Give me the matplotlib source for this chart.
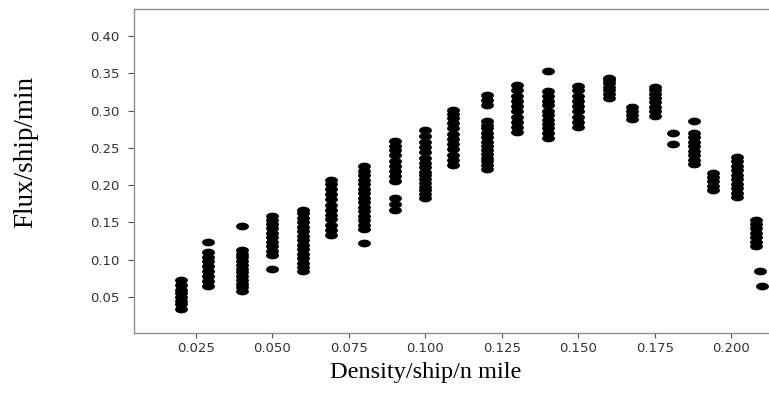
import numpy as np
import matplotlib
matplotlib.use("Agg")
import matplotlib.pyplot as plt
from matplotlib.path import Path

# density columns (ship/n mile) and flux values
density = [0.020, 0.029, 0.040, 0.050, 0.060, 0.069, 0.080, 0.090, 0.100,
           0.109, 0.120, 0.130, 0.140, 0.150, 0.160, 0.1675, 0.175, 0.181,
           0.188, 0.194, 0.202, 0.208, 0.2095, 0.2102]

flux = [
    [0.034, 0.040, 0.045, 0.050, 0.055, 0.060, 0.066, 0.073],
    [0.065, 0.072, 0.078, 0.085, 0.092, 0.098, 0.104, 0.110, 0.124],
    [0.058, 0.063, 0.068, 0.073, 0.078, 0.083, 0.088, 0.093, 0.098, 0.104, 0.108, 0.113, 0.145],
    [0.0875, 0.106, 0.112, 0.118, 0.124, 0.130, 0.136, 0.142, 0.148, 0.153, 0.159],
    [0.085, 0.090, 0.096, 0.102, 0.108, 0.114, 0.120, 0.126, 0.132, 0.138, 0.144, 0.150, 0.156, 0.162, 0.167],
    [0.133, 0.140, 0.147, 0.154, 0.160, 0.167, 0.174, 0.181, 0.188, 0.195, 0.201, 0.207],
    [0.122, 0.141, 0.147, 0.153, 0.159, 0.165, 0.171, 0.177, 0.183, 0.189, 0.195, 0.201, 0.207, 0.213, 0.219, 0.226],
    [0.167, 0.175, 0.183, 0.205, 0.212, 0.219, 0.226, 0.233, 0.240, 0.247, 0.253, 0.259],
    [0.183, 0.188, 0.193, 0.198, 0.203, 0.208, 0.213, 0.218, 0.224, 0.230, 0.237, 0.244, 0.251, 0.258, 0.266, 0.274],
    [0.227, 0.234, 0.241, 0.248, 0.255, 0.262, 0.269, 0.276, 0.283, 0.290, 0.296, 0.301],
    [0.222, 0.227, 0.232, 0.237, 0.242, 0.247, 0.252, 0.258, 0.264, 0.270, 0.276, 0.281, 0.286, 0.307, 0.314, 0.321],
    [0.271, 0.278, 0.285, 0.292, 0.299, 0.306, 0.313, 0.320, 0.327, 0.334],
    [0.263, 0.270, 0.276, 0.282, 0.288, 0.294, 0.300, 0.307, 0.313, 0.319, 0.326, 0.353],
    [0.278, 0.285, 0.292, 0.299, 0.306, 0.313, 0.320, 0.327, 0.333],
    [0.317, 0.322, 0.327, 0.332, 0.337, 0.341, 0.344],
    [0.289, 0.294, 0.299, 0.305],
    [0.293, 0.299, 0.305, 0.311, 0.317, 0.322, 0.327, 0.332],
    [0.255, 0.270],
    [0.228, 0.234, 0.240, 0.246, 0.252, 0.258, 0.264, 0.270, 0.286],
    [0.193, 0.199, 0.205, 0.211, 0.216],
    [0.184, 0.190, 0.196, 0.202, 0.208, 0.214, 0.220, 0.226, 0.232, 0.238],
    [0.118, 0.124, 0.130, 0.136, 0.142, 0.148, 0.153],
    [0.085],
    [0.065],
]

xticks = [0.025, 0.050, 0.075, 0.100, 0.125, 0.150, 0.175, 0.200]
yticks = [0.05, 0.10, 0.15, 0.20, 0.25, 0.30, 0.35, 0.40]

xs = []
ys = []
for d, col in zip(density, flux):
    for v in col:
        xs.append(d)
        ys.append(v)

# flattened ellipse marker (the source picture is stretched sideways)
t = np.linspace(0, 2 * np.pi, 40)
ellipse = Path(np.column_stack([np.cos(t), 0.6 * np.sin(t)]), closed=True)

fig = plt.figure(figsize=(7.69, 3.94), dpi=100)
ax = fig.add_axes([134 / 769, 1 - 333 / 394, 1 - 134 / 769, (333 - 9) / 394])

ax.scatter(xs, ys, s=86, marker=ellipse, color="black", linewidths=0)

ax.set_xlim(0.0047, 0.2124)
ax.set_ylim(0.0017, 0.4362)
ax.set_xticks(xticks)
ax.set_yticks(yticks)
ax.set_xticklabels(["%.3f" % v for v in xticks])
ax.set_yticklabels(["%.2f" % v for v in yticks])

for s in ["left", "bottom", "top"]:
    ax.spines[s].set_color("#8f8f8f")
    ax.spines[s].set_linewidth(1.0)
ax.spines["right"].set_visible(False)

ax.tick_params(axis="x", length=3.6, width=0.8, color="#555555",
               labelsize=9.5, labelcolor="#333333", pad=3)
ax.tick_params(axis="y", length=4.3, width=0.8, color="#555555",
               labelsize=9.5, labelcolor="#333333", pad=6)

ax.set_xlabel("Density/ship/n mile", family="Liberation Serif", fontsize=17.5)
ax.set_ylabel("Flux/ship/min", family="Liberation Serif", fontsize=19.5)
ax.xaxis.set_label_coords(0.46, -0.09)
ax.yaxis.set_label_coords(-0.15, 0.56)

fig.savefig("out.png", dpi=100, facecolor="w")
